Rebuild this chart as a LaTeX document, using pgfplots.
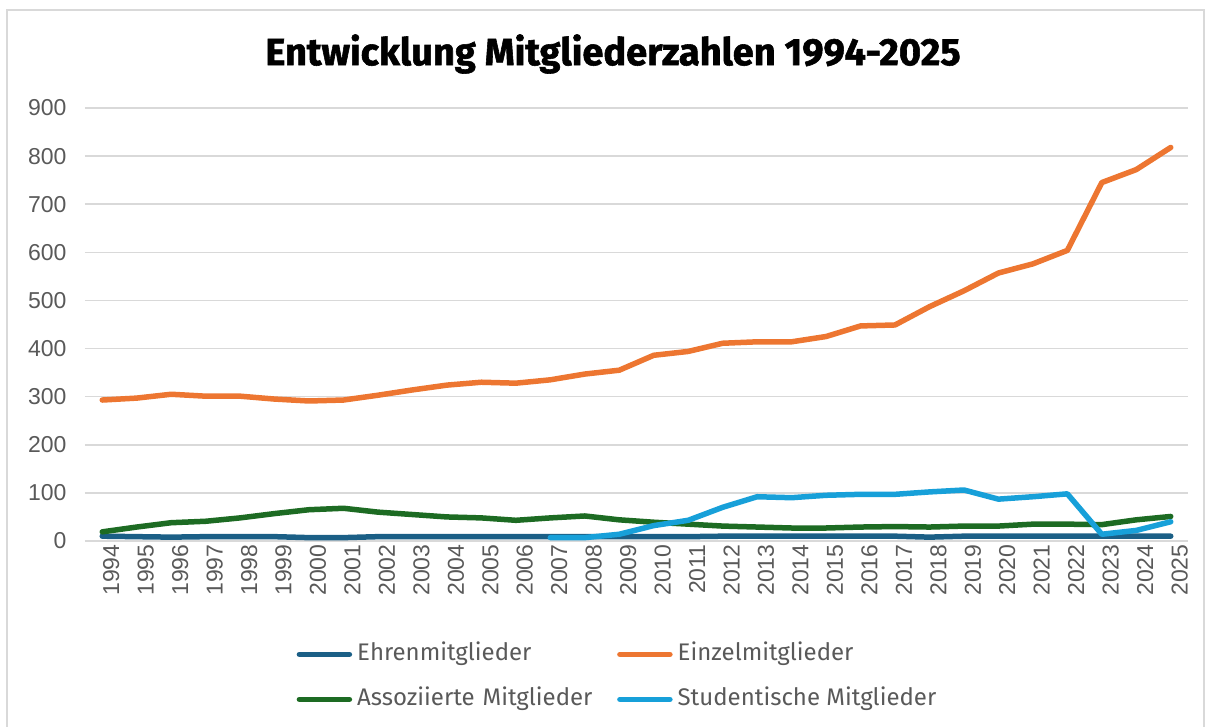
\documentclass[border=0pt]{standalone}
\usepackage{fontspec}
\usepackage{pgfplots}
\pgfplotsset{compat=1.18}
\setmainfont{Fira Sans}
\newfontfamily\titlefont[BoldFeatures={FakeBold=1.5}]{Fira Sans}
\newfontfamily\tickfont{Liberation Sans}
\newfontfamily\legfont{Fira Sans}
\definecolor{cEhren}{HTML}{1B5F86}
\definecolor{cEinzel}{HTML}{ED7631}
\definecolor{cAsso}{HTML}{1D6B23}
\definecolor{cStud}{HTML}{17A0D9}
\definecolor{gridgray}{HTML}{D9D9D9}
\definecolor{tickgray}{HTML}{595959}
\definecolor{leggray}{HTML}{595959}
\begin{document}
\begin{tikzpicture}
\useasboundingbox (0pt,0pt) rectangle (1212pt,727pt);
\draw[gridgray, line width=1.5pt] (7pt,-2pt) -- (7pt,717pt) -- (1204pt,717pt) -- (1204pt,-2pt);
\node[font=\fontsize{38}{38}\selectfont\titlefont\bfseries] at (613pt,673pt) {Entwicklung Mitgliederzahlen 1994-2025};
\begin{axis}[
  at={(85pt,186pt)}, anchor=south west,
  width=1103pt, height=433pt, scale only axis,
  xmin=1993.5, xmax=2025.5, ymin=0, ymax=900,
  xtick={1994,...,2025}, ytick={0,100,...,900},
  /pgf/number format/1000 sep={},
  /pgf/number format/assume math mode=true,
  axis line style={draw=none},
  major tick length=0pt,
  ymajorgrids, grid style={line width=1.5pt, gridgray},
  ticklabel style={font=\fontsize{23}{23}\selectfont\tickfont, text=tickgray},
  xticklabel style={rotate=90, anchor=east, yshift=-9pt},
  yticklabel style={xshift=-15pt},
  every axis plot/.append style={line width=5.5pt, line cap=round, line join=round},
  legend columns=2,
  legend cell align=left,
  legend image code/.code={\draw[#1, line width=5.5pt, line cap=round] (0pt,0pt) -- (50pt,0pt);},
  legend style={draw=none, fill=none, at={(0.189,-0.229)}, anchor=north west,
    font=\fontsize{24}{24}\selectfont\legfont, text=leggray,
    row sep=21pt, column sep=0pt,
    nodes={inner xsep=5pt, inner ysep=0pt, text height=18pt, text depth=6pt},
    /tikz/column 2/.style={nodes={text width=255pt}}},
]
\addplot[cEhren] coordinates {
(1994,10)(1995,9)(1996,8)(1997,9)(1998,9)(1999,9)(2000,7)(2001,7)(2002,9)(2003,9)
(2004,9)(2005,9)(2006,9)(2007,9)(2008,9)(2009,9)(2010,9)(2011,9)(2012,10)(2013,10)
(2014,10)(2015,10)(2016,10)(2017,10)(2018,8)(2019,10)(2020,10)(2021,10)(2022,10)(2023,10)
(2024,10)(2025,10)};
\addlegendentry{Ehrenmitglieder}
\addplot[cEinzel] coordinates {
(1994,293)(1995,297)(1996,305)(1997,301)(1998,301)(1999,295)(2000,291)(2001,293)(2002,303)(2003,314)
(2004,324)(2005,330)(2006,328)(2007,335)(2008,347)(2009,355)(2010,386)(2011,394)(2012,411)(2013,414)
(2014,414)(2015,425)(2016,447)(2017,449)(2018,487)(2019,520)(2020,557)(2021,576)(2022,604)(2023,745)
(2024,772)(2025,818)};
\addlegendentry{Einzelmitglieder}
\addplot[cAsso] coordinates {
(1994,19)(1995,29)(1996,38)(1997,41)(1998,48)(1999,57)(2000,65)(2001,68)(2002,60)(2003,55)
(2004,50)(2005,48)(2006,43)(2007,48)(2008,52)(2009,44)(2010,39)(2011,35)(2012,31)(2013,29)
(2014,27)(2015,27)(2016,29)(2017,30)(2018,29)(2019,31)(2020,31)(2021,35)(2022,35)(2023,34)
(2024,44)(2025,51)};
\addlegendentry{Assoziierte Mitglieder}
\addplot[cStud] coordinates {
(2007,7)(2008,7)(2009,14)(2010,32)(2011,43)(2012,70)(2013,92)(2014,90)(2015,95)(2016,97)
(2017,97)(2018,102)(2019,106)(2020,87)(2021,92)(2022,98)(2023,14)(2024,22)(2025,40)};
\addlegendentry{Studentische Mitglieder}
\end{axis}
\end{tikzpicture}
\end{document}
